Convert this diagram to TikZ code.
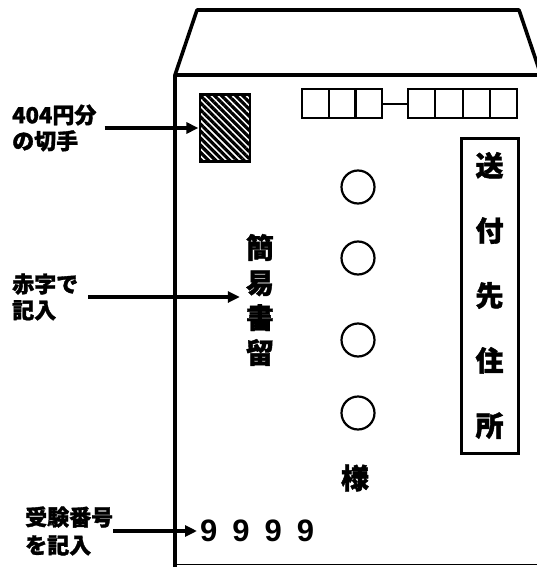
\documentclass[tikz,border=0pt]{standalone}
\usepackage{fontspec}
\setmainfont{Liberation Sans}
\newfontfamily\jp{Noto Sans CJK JP}[BoldFeatures={FakeBold=1.5}]
\usetikzlibrary{arrows.meta,patterns.meta}
\begin{document}
\begin{tikzpicture}[x=1pt,y=-1pt,
    lbl/.style={font=\jp\bfseries\fontsize{22}{26}\selectfont, align=left, inner sep=0pt, anchor=west},
    tate/.style={font=\jp\bfseries\fontsize{28}{35}\selectfont, align=center, inner sep=0pt},
    arr/.style={line width=3.2pt, -{Triangle[length=12pt,width=11pt]}},
    pbox/.style={line width=2.2pt}]
\useasboundingbox (0,0) rectangle (537,567);
\clip (0,0) rectangle (537,567);
% envelope
\draw[line width=3.6pt, line join=round] (175,570) -- (175,75) -- (197,10) -- (519,10) -- (541,75);
\draw[line width=3.6pt] (175,75) -- (540,75);
\draw[line width=1pt] (175,564) -- (540,564);
% stamp and postcode
\node[draw, line width=2.5pt, minimum width=50, minimum height=67,
  pattern={Lines[angle=-45,distance=5pt,line width=3.2pt]}] (stamp) at (225,128) {};
\foreach \i in {0,1,2}
  \draw[pbox] (302+26.7*\i,89) rectangle ++(26.7,29);
\draw[pbox] (382,104) -- (408,104);
\foreach \i in {0,...,3}
  \draw[pbox] (408+27.3*\i,89) rectangle ++(27.3,29);
% address side
\node[tate, draw, line width=3pt, minimum width=57, minimum height=315,
  font=\jp\bfseries\fontsize{28}{65}\selectfont] (addr) at (489.5,295.5) {送\\付\\先\\住\\所};
\foreach \y [count=\n] in {187,258,340,413}
  \node[circle, draw, line width=2.2pt, minimum size=33, inner sep=0pt] (c\n) at (358,\y) {};
\node[tate] (sama) at (355,478) {様};
\node[tate] (reg) at (260,300) {簡\\易\\書\\留};
\node[font=\bfseries\fontsize{31}{31}\selectfont, anchor=west, inner sep=0pt] (num) at (200,531)
  {9\hspace{15pt}9\hspace{15pt}9\hspace{15pt}9};
% notes
\node[lbl] (lblstamp) at (12,128) {404円分\\の切手};
\node[lbl] (lblred) at (12,297) {赤字で\\記入};
\node[lbl, font=\jp\bfseries\fontsize{22}{28}\selectfont] (lblnum) at (25,531) {受験番号\\を記入};
\draw[arr, shorten <=8pt] (lblstamp.east) -- (stamp.west);
\draw[arr, shorten <=10pt, shorten >=6pt] (lblred.east) -- (lblred.east -| reg.west);
\draw[arr, shorten >=3pt] (lblnum.east) -- (num.west);
\end{tikzpicture}
\end{document}
